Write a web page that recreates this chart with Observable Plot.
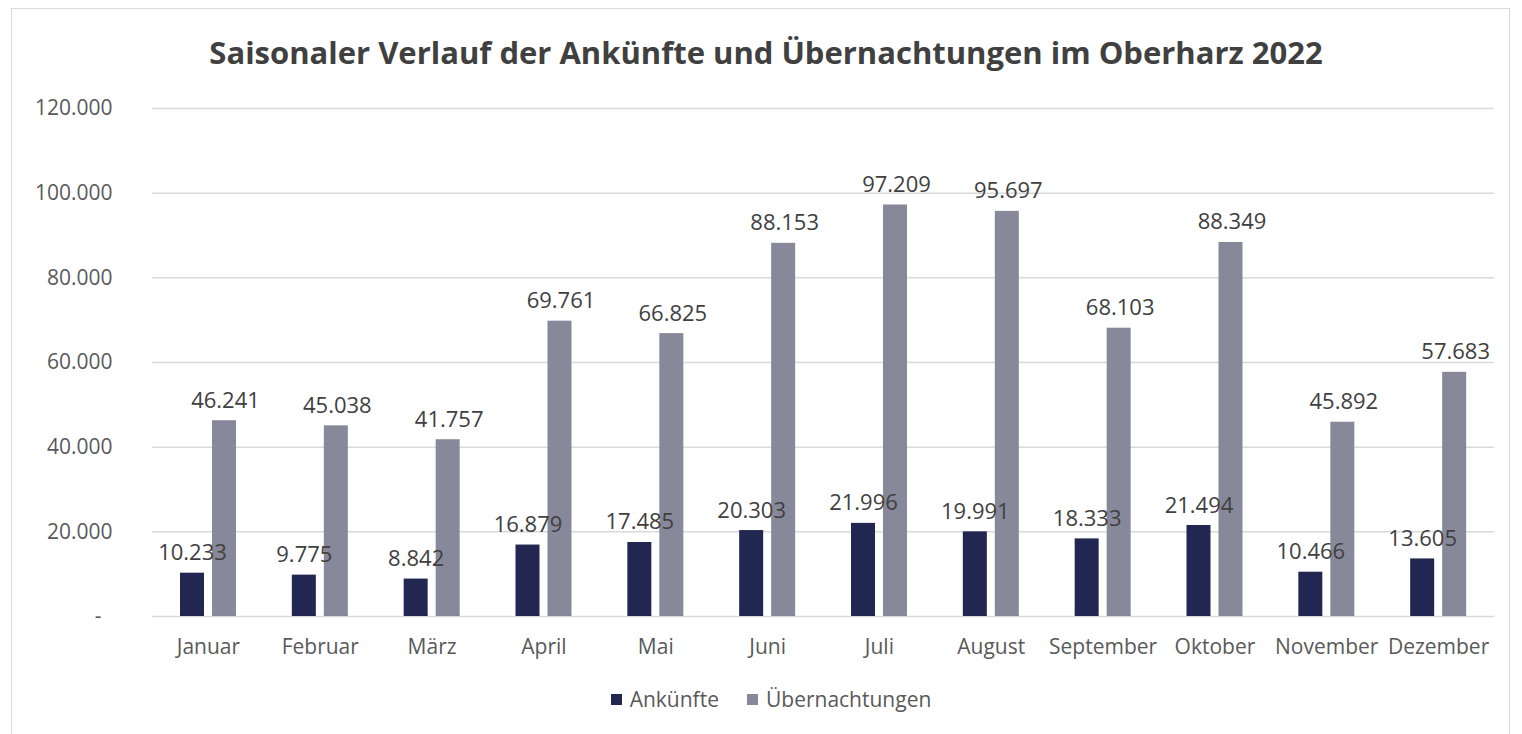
<!DOCTYPE html>
<html>
<head>
<meta charset="utf-8">
<script src="https://cdn.jsdelivr.net/npm/d3@7"></script>
<script src="https://cdn.jsdelivr.net/npm/@observablehq/plot@0.6"></script>
<style>
  html, body { margin: 0; padding: 0; background: #fff; }
  body { width: 1522px; height: 734px; position: relative; overflow: hidden; font-family: "Open Sans", sans-serif; }
  #frame { position: absolute; left: 11px; top: 8px; width: 1499px; height: 760px; border: 1.5px solid #d9d9d9; box-sizing: border-box; }
  #title { position: absolute; left: 0; width: 1532px; top: 31px; text-align: center; font-size: 31px; font-weight: 700; color: #404040; white-space: nowrap; }
  #chart { position: absolute; left: 0; top: 0; }
  #legend { position: absolute; left: 0; width: 1542px; top: 685px; display: flex; justify-content: center; gap: 28px; font-size: 21px; color: #595959; }
  #legend .item { display: flex; align-items: center; gap: 8px; }
  #legend .sw { width: 11px; height: 11px; display: inline-block; }
</style>
</head>
<body>
<div id="frame"></div>
<div id="chart"></div>
<div id="title">Saisonaler Verlauf der Ankünfte und Übernachtungen im Oberharz 2022</div>
<div id="legend"></div>
<script>
const months = ["Januar", "Februar", "März", "April", "Mai", "Juni", "Juli", "August", "September", "Oktober", "November", "Dezember"];
const ankuenfte = [10233, 9775, 8842, 16879, 17485, 20303, 21996, 19991, 18333, 21494, 10466, 13605];
const uebernachtungen = [46241, 45038, 41757, 69761, 66825, 88153, 97209, 95697, 68103, 88349, 45892, 57683];
const yTicks = [0, 20000, 40000, 60000, 80000, 100000, 120000];
const seriesNames = ["Ankünfte", "Übernachtungen"];
const seriesColors = ["#212751", "#878899"];

const de = d3.formatLocale({decimal: ",", thousands: ".", grouping: [3], currency: ["", " €"]});
const fmt = de.format(",d");

const dataA = months.map((m, i) => ({month: m, value: ankuenfte[i]}));
const dataU = months.map((m, i) => ({month: m, value: uebernachtungen[i]}));

const width = 1522, height = 680;
const mL = 152, mR = 28;
const step = (width - mL - mR) / months.length;

const chart = Plot.plot({
  width, height,
  marginLeft: mL, marginRight: mR, marginTop: 108, marginBottom: 64,
  style: {fontFamily: "Open Sans, sans-serif", background: "transparent"},
  x: {type: "band", domain: months, padding: 0, round: false, label: null},
  y: {domain: [0, 120000], label: null},
  marks: [
    Plot.ruleY(yTicks, {stroke: "#d9d9d9", strokeWidth: 1.5}),
    Plot.barY(dataA, {x: "month", y: "value", fill: seriesColors[0], insetLeft: 28, insetRight: step - 52}),
    Plot.barY(dataU, {x: "month", y: "value", fill: seriesColors[1], insetLeft: 60, insetRight: step - 84}),
    Plot.text(dataA, {x: "month", y: "value", text: d => fmt(d.value), dx: 40 - step / 2, dy: -13, lineAnchor: "bottom", fontSize: 22, fill: "#404040"}),
    Plot.text(dataU, {x: "month", y: "value", text: d => fmt(d.value), dx: 73 - step / 2, dy: -13, lineAnchor: "bottom", fontSize: 22, fill: "#404040"}),
    Plot.axisY({ticks: yTicks, tickSize: 0, tickPadding: 40, tickFormat: d => d === 0 ? "-\u00a0\u00a0" : fmt(d), fontSize: 21, fill: "#595959", label: null}),
    Plot.axisX({tickSize: 0, tickPadding: 23, fontSize: 21, fill: "#595959", label: null})
  ]
});
document.getElementById("chart").appendChild(chart);

const legend = document.getElementById("legend");
seriesNames.forEach((name, i) => {
  const item = document.createElement("div");
  item.className = "item";
  const sw = document.createElement("span");
  sw.className = "sw";
  sw.style.background = seriesColors[i];
  const label = document.createElement("span");
  label.textContent = name;
  item.appendChild(sw);
  item.appendChild(label);
  legend.appendChild(item);
});
</script>
</body>
</html>
